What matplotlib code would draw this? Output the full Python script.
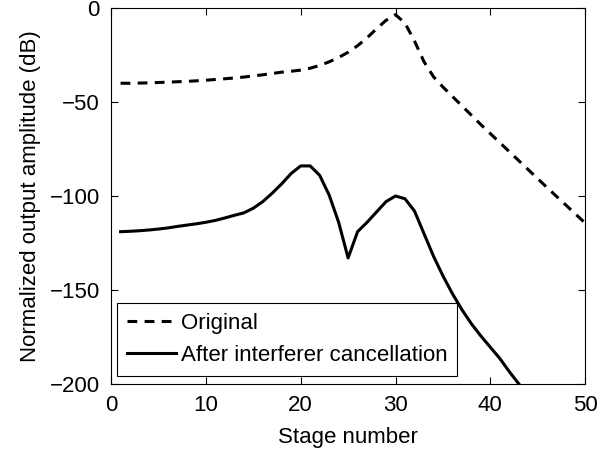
import matplotlib
matplotlib.use("Agg")
import matplotlib.pyplot as plt

plt.rcParams['font.family'] = ['Liberation Sans', 'DejaVu Sans']
plt.rcParams['axes.unicode_minus'] = True

# amplitude per stage, dB
stages = list(range(1, 51))
original = [-40.0, -40.0, -39.9, -39.8, -39.6, -39.4, -39.2, -39.0, -38.7, -38.4,
            -38.0, -37.6, -37.2, -36.7, -36.1, -35.5, -34.8, -34.1, -33.6, -33.0,
            -32.0, -30.5, -28.6, -26.3, -23.5, -20.0, -15.8, -11.0, -6.5, -3.5,
            -8.0, -17.5, -28.5, -36.5, -42.0, -47.0, -52.0, -57.0, -62.0, -66.8,
            -71.6, -76.4, -81.2, -86.0, -90.8, -95.6, -100.3, -105.0, -109.7, -114.4]
cancelled = [-119.0, -118.8, -118.5, -118.1, -117.6, -117.0, -116.2, -115.5, -114.8, -114.0,
             -113.0, -111.7, -110.3, -109.0, -106.5, -103.0, -98.5, -93.5, -88.0, -84.0,
             -84.0, -89.0, -99.5, -114.0, -133.0, -119.0, -114.0, -108.5, -103.0, -100.0,
             -101.5, -108.0, -120.0, -132.0, -142.5, -152.0, -160.5, -168.0, -174.5, -180.5,
             -186.5, -193.5, -200.0, -206.5, -213.0, -219.5, -226.0, -232.5, -239.0, -245.5]

fs = 16

fig = plt.figure(figsize=(6.07, 4.5), dpi=100)
ax = fig.add_axes([0.183, 0.147, 0.781, 0.835])

ax.plot(stages, original, color='black', lw=2.2, linestyle=(0, (3.2, 2.4)),
        label='Original')
ax.plot(stages, cancelled, color='black', lw=2.2, label='After interferer cancellation')

ax.set_xlim(0, 50)
ax.set_ylim(-200, 0)
ax.set_xticks(range(0, 51, 10))
ax.set_yticks(range(-200, 1, 50))
ax.tick_params(direction='in', top=True, right=True, length=5, width=0.8,
               labelsize=fs)
ax.tick_params(axis='x', pad=8)
ax.tick_params(axis='y', pad=8)
for s in ax.spines.values():
    s.set_linewidth(0.8)

ax.set_xlabel('Stage number', fontsize=fs, labelpad=8)
ax.set_ylabel('Normalized output amplitude (dB)', fontsize=fs, labelpad=6)

leg = ax.legend(loc='lower left', bbox_to_anchor=(0.013, 0.021), borderaxespad=0,
                fontsize=fs, fancybox=False, framealpha=1, edgecolor='black',
                handlelength=2.2, handletextpad=0.2, labelspacing=0.5,
                borderpad=0.45)
leg.get_frame().set_linewidth(0.8)

fig.savefig('out.png', dpi=100)
